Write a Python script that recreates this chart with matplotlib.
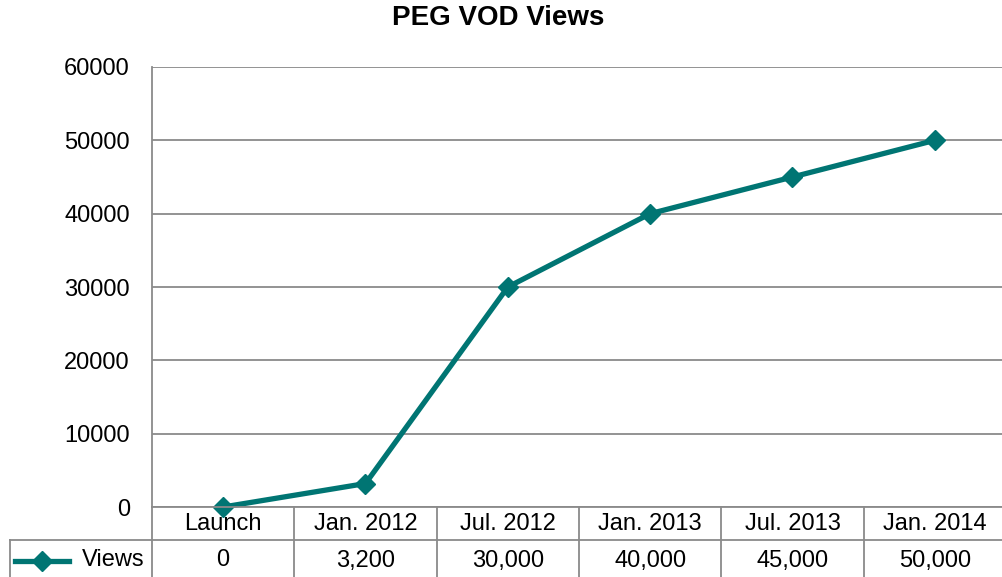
import matplotlib.pyplot as plt
import matplotlib.transforms as mtransforms
from matplotlib.lines import Line2D

plt.rcParams["font.family"] = ["Liberation Sans", "DejaVu Sans"]

categories = ["Launch", "Jan. 2012", "Jul. 2012", "Jan. 2013", "Jul. 2013", "Jan. 2014"]
views = [0, 3200, 30000, 40000, 45000, 50000]
series_name = "Views"

TEAL = "#007573"
GRID = "#8a8a8a"
FS = 17


def main():
    W, H = 1003, 577
    fig = plt.figure(figsize=(W / 100, H / 100), dpi=100)

    left, right, top, bottom = 152, 1006, 67, 507
    ax = fig.add_axes([left / W, 1 - bottom / H, (right - left) / W, (bottom - top) / H])

    x = list(range(len(categories)))
    ax.plot(x, views, color=TEAL, lw=3.8, marker="D", ms=10.5, zorder=3, clip_on=False)

    ax.set_xlim(-0.5, len(categories) - 0.5)
    ax.set_ylim(0, 60000)
    ax.set_yticks(range(0, 60001, 10000))
    ax.set_yticklabels([str(v) for v in range(0, 60001, 10000)], fontsize=FS)
    ax.tick_params(axis="y", length=0, pad=16)
    ax.set_xticks([])
    ax.grid(axis="y", color=GRID, lw=1.3)
    ax.set_axisbelow(True)
    for s in ["top", "right", "bottom"]:
        ax.spines[s].set_visible(False)
    ax.spines["left"].set_color(GRID)
    ax.spines["left"].set_linewidth(1.3)

    fig.text(0.497, 1 - 18 / H, "PEG VOD Views", fontsize=20, fontweight="bold",
             ha="center", va="center")

    # data table under the axis
    tr = mtransforms.blended_transform_factory(ax.transData, ax.transAxes)
    row_h = 33 / (bottom - top)
    r1 = -row_h
    r2 = -74 / (bottom - top)
    n = len(categories)
    lk = dict(color=GRID, lw=1.3, transform=tr, clip_on=False)

    # horizontal lines
    fig.add_artist(Line2D([-0.5, n - 0.5], [0, 0], **lk))
    fig.add_artist(Line2D([-1.5, n - 0.5], [r1, r1], **lk))
    fig.add_artist(Line2D([-1.5, n - 0.5], [r2, r2], **lk))
    # vertical lines
    fig.add_artist(Line2D([-1.5, -1.5], [r1, r2], **lk))
    for i in range(n + 1):
        fig.add_artist(Line2D([i - 0.5, i - 0.5], [0, r2], **lk))

    for i, (c, v) in enumerate(zip(categories, views)):
        ax.text(i, r1 / 2, c, transform=tr, ha="center", va="center", fontsize=FS)
        ax.text(i, (r1 + r2) / 2, f"{v:,}", transform=tr, ha="center", va="center", fontsize=FS)

    ym = (r1 + r2) / 2
    fig.add_artist(Line2D([-1.46, -1.08], [ym, ym], color=TEAL, lw=3.8, transform=tr, clip_on=False))
    fig.add_artist(Line2D([-1.27], [ym], color=TEAL, marker="D", ms=10.5, transform=tr, clip_on=False))
    ax.text(-0.55, ym, series_name, transform=tr, ha="right", va="center", fontsize=FS)

    fig.savefig("out.png", dpi=100)
    plt.close(fig)


if __name__ == "__main__":
    main()
